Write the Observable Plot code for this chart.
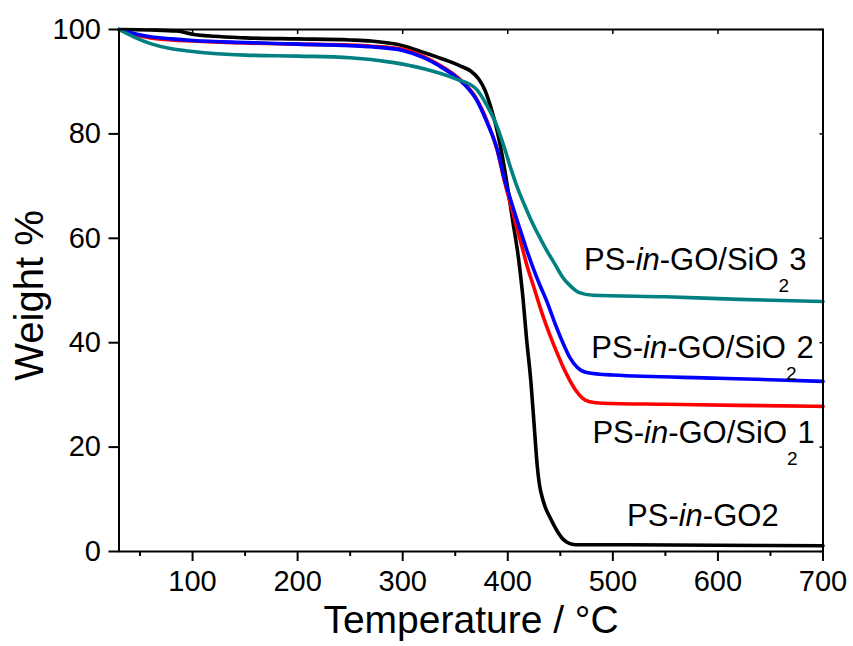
<!DOCTYPE html>
<html>
<head>
<meta charset="utf-8">
<script src="https://cdn.jsdelivr.net/npm/d3@7"></script>
<script src="https://cdn.jsdelivr.net/npm/@observablehq/plot@0.6"></script>
<style>
  html, body { margin: 0; padding: 0; background: #fff; }
</style>
</head>
<body>
<div id="chart"></div>
<script>
// ---- data ----
const seriesNames = ["PS-in-GO2", "PS-in-GO/SiO2 1", "PS-in-GO/SiO2 2", "PS-in-GO/SiO2 3"];
const seriesColors = ["#000000", "#ff0000", "#0000ff", "#008080"];

const tempBlack = [30,60,85,100,120,150,200,250,270,290,300,320,340,355,365,372,378,384,390,395,400,405,410,414,418,422,425,428,430,433,436,440,444,448,452,456,461,468,500,600,700];
const wtBlack   = [100,99.9,99.7,99.1,98.7,98.4,98.2,98.0,97.8,97.3,96.9,95.6,94.2,93.0,92.0,90.6,88.5,85.0,80.5,75.5,69.5,63.0,56.5,49.5,40.5,32.5,24.5,16.5,13,10.2,8.3,6.6,5.0,3.6,2.5,1.8,1.4,1.3,1.3,1.2,1.1];

const tempRed = [30,45,60,80,100,150,200,250,270,300,320,335,350,360,370,380,390,397,403,408,413,418,425,432,440,447,453,459,465,471,478,490,550,620,700];
const wtRed   = [100,99,98.4,98.0,97.8,97.4,97.2,97.0,96.8,96.2,94.8,93.2,91.2,89.4,86.8,82.6,76.8,70.8,66.3,62.5,58.8,55,50.5,46,41.5,38,35.2,32.8,30.8,29.4,28.7,28.4,28.2,28.0,27.8];

const tempBlue = [30,45,60,80,100,150,200,250,270,300,320,335,350,360,370,380,390,397,403,408,414,419,424,430,437,444,452,459,466,475,500,600,700];
const wtBlue   = [100,99.2,98.6,98.2,97.9,97.5,97.2,96.9,96.7,96.0,94.6,93.0,91.0,89.2,86.6,82.3,77.0,71.2,67.2,64.0,60.3,57.2,54.4,51.3,48,44.2,40.2,37.2,35.3,34.3,33.8,33.2,32.6];

const tempTeal = [30,45,60,80,100,150,200,250,290,320,350,370,380,390,397,403,409,415,421,429,437,445,452,460,468,481,550,620,700];
const wtTeal   = [100,98.5,97.3,96.3,95.8,95.1,94.9,94.6,93.7,92.5,90.6,88.6,85.5,81.3,77.2,73.3,69.8,66.8,64.0,60.7,57.7,55,52.6,50.8,49.6,49.1,48.8,48.3,47.9];

const xMajorTicks = [100,200,300,400,500,600,700];
const xMinorTicks = [50,150,250,350,450,550,650];
const yTicks = [0,20,40,60,80,100];

// annotation labels: "PS-" + italic "in" + "-GO" + optional "/SiO" + sub "2" + suffix
const labelSuffix = ["2", "1", "2", "3"];
const labelHasSiO2 = [false, true, true, true];
const labelX = [514, 481, 480, 473];
const labelY = [4.8, 20.7, 37.0, 53.8];

const xTitle = "Temperature / \u00B0C";
const yTitle = "Weight %";

// ---- build table ----
const temps = [tempBlack, tempRed, tempBlue, tempTeal];
const wts = [wtBlack, wtRed, wtBlue, wtTeal];
const rows = [];
temps.forEach((ts, s) => ts.forEach((t, i) => rows.push({series: seriesNames[s], T: t, W: wts[s][i]})));

const FONT = "'Liberation Sans', Arial, Helvetica, sans-serif";
const LABEL_SIZE = 31, SUB_SIZE = 19, SUB_SHIFT = 22;

const measureCtx = document.createElement("canvas").getContext("2d");
function textWidth(str, size, italic) {
  measureCtx.font = (italic ? "italic " : "") + size + "px " + FONT;
  return measureCtx.measureText(str).width;
}

function labelsMark(index, scales) {
  const g = d3.create("svg:g")
    .attr("font-family", FONT)
    .attr("fill", "#000");
  for (let i = 0; i < labelX.length; i++) {
    const x0 = scales.x(labelX[i]);
    const y0 = scales.y(labelY[i]);
    const parts = [
      {s: "PS-", italic: false, size: LABEL_SIZE, shift: 0},
      {s: "in", italic: true, size: LABEL_SIZE, shift: 0}
    ];
    if (labelHasSiO2[i]) {
      parts.push({s: "-GO/SiO", italic: false, size: LABEL_SIZE, shift: 0});
      parts.push({s: "2", italic: false, size: SUB_SIZE, shift: SUB_SHIFT});
      parts.push({s: labelSuffix[i], italic: false, size: LABEL_SIZE, shift: 0});
    } else {
      parts.push({s: "-GO" + labelSuffix[i], italic: false, size: LABEL_SIZE, shift: 0});
    }
    let x = x0;
    for (const p of parts) {
      g.append("text")
        .attr("text-anchor", "start")
        .attr("x", x)
        .attr("y", y0 + p.shift)
        .attr("font-size", p.size)
        .attr("font-style", p.italic ? "italic" : "normal")
        .text(p.s);
      x += textWidth(p.s, p.size, p.italic);
    }
  }
  return g.node();
}

const chart = Plot.plot({
  width: 853,
  height: 646,
  marginLeft: 118.5,
  marginRight: 30.5,
  marginTop: 29,
  marginBottom: 95,
  style: {fontFamily: FONT, background: "#fff", color: "#000"},
  x: {domain: [30, 700]},
  y: {domain: [0, 100]},
  marks: [
    Plot.line(rows, {
      x: "T", y: "W", z: "series",
      stroke: d => seriesColors[seriesNames.indexOf(d.series)],
      strokeWidth: 3.6, curve: "monotone-x"
    }),
    Plot.frame({stroke: "#000", strokeWidth: 2}),
    Plot.axisX(xMajorTicks, {anchor: "bottom", tickSize: 10, tickPadding: 9, strokeWidth: 2, fontSize: 29, label: null, tickFormat: d => String(d)}),
    Plot.axisX(xMinorTicks, {anchor: "bottom", tickSize: 5, strokeWidth: 2, tickFormat: () => "", label: null}),
    Plot.axisX(xMajorTicks, {anchor: "top", tickSize: -4, strokeWidth: 1.5, tickFormat: () => "", label: null}),
    Plot.axisY(yTicks, {anchor: "left", tickSize: 10, tickPadding: 8, strokeWidth: 2, fontSize: 29, label: null, tickFormat: d => String(d)}),
    Plot.axisY(yTicks, {anchor: "right", tickSize: -4, strokeWidth: 1.5, tickFormat: () => "", label: null}),
    Plot.text([xTitle], {frameAnchor: "bottom", lineAnchor: "middle", textAnchor: "middle", dy: 69, fontSize: 39, fill: "#000"}),
    Plot.text([yTitle], {frameAnchor: "left", lineAnchor: "middle", textAnchor: "middle", dx: -89, dy: 5, rotate: -90, fontSize: 40, fill: "#000"}),
    labelsMark
  ]
});

document.getElementById("chart").appendChild(chart);
</script>
</body>
</html>
